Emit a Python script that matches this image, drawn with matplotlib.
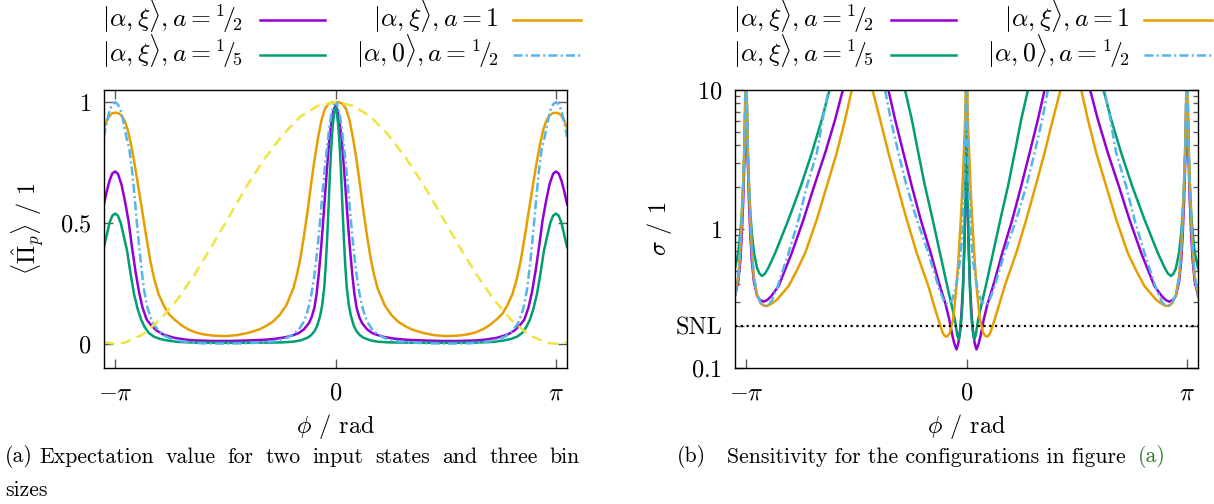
import numpy as np
import matplotlib
matplotlib.use("Agg")
import matplotlib.pyplot as plt
from matplotlib.lines import Line2D

plt.rcParams.update({
    "font.family": "serif",
    "font.serif": ["cmr10"],
    "mathtext.fontset": "cm",
    "axes.formatter.use_mathtext": True,
    "axes.unicode_minus": False,
})

# ---------------------------------------------------------------- data
# Expectation value <Pi_p> versus phi (phi >= 0, curves are even in phi)
phi_exp_half = [0.00, 0.03, 0.06, 0.09, 0.12, 0.15, 0.18, 0.21, 0.24, 0.27, 0.30, 0.34, 0.38, 0.45,
                0.52, 0.60, 0.70, 0.85, 1.00, 1.25, 1.50, 1.75, 2.00, 2.15, 2.30, 2.45, 2.55, 2.63,
                2.69, 2.75, 2.80, 2.85, 2.90, 2.95, 3.00, 3.05, 3.10, 3.14, 3.18, 3.22, 3.26, 3.30]
exp_half = [0.985, 0.965, 0.915, 0.840, 0.730, 0.610, 0.490, 0.380, 0.285, 0.205, 0.150, 0.110, 0.085,
            0.060, 0.045, 0.036, 0.028, 0.021, 0.017, 0.014, 0.012, 0.012, 0.014, 0.018, 0.025, 0.038,
            0.055, 0.078, 0.100, 0.150, 0.215, 0.300, 0.400, 0.510, 0.590, 0.660, 0.703, 0.713, 0.705,
            0.675, 0.630, 0.577]

phi_exp_fifth = [0.00, 0.02, 0.04, 0.06, 0.08, 0.10, 0.12, 0.14, 0.16, 0.19, 0.22, 0.26, 0.30, 0.35,
                 0.40, 0.50, 0.60, 0.75, 1.00, 1.50, 2.00, 2.25, 2.40, 2.50, 2.59, 2.66, 2.72, 2.77,
                 2.82, 2.87, 2.92, 2.97, 3.02, 3.06, 3.10, 3.14, 3.18, 3.22, 3.26, 3.30]
exp_fifth = [0.977, 0.955, 0.900, 0.815, 0.700, 0.560, 0.430, 0.320, 0.235, 0.160, 0.115, 0.075, 0.052,
             0.035, 0.025, 0.014, 0.009, 0.006, 0.005, 0.004, 0.005, 0.008, 0.014, 0.020, 0.030, 0.045,
             0.070, 0.100, 0.145, 0.205, 0.290, 0.385, 0.450, 0.500, 0.530, 0.539, 0.530, 0.500, 0.450,
             0.400]

phi_exp_one = [0.00, 0.05, 0.10, 0.15, 0.20, 0.25, 0.30, 0.35, 0.40, 0.45, 0.50, 0.55, 0.60, 0.70,
               0.80, 0.90, 1.00, 1.10, 1.25, 1.40, 1.57, 1.75, 1.90, 2.00, 2.10, 2.20, 2.30, 2.38,
               2.45, 2.52, 2.58, 2.64, 2.71, 2.76, 2.81, 2.86, 2.91, 2.96, 3.00, 3.05, 3.10, 3.14,
               3.18, 3.22, 3.26, 3.30]
exp_one = [1.000, 0.999, 0.993, 0.972, 0.925, 0.850, 0.760, 0.655, 0.545, 0.445, 0.355, 0.285, 0.230,
           0.160, 0.118, 0.090, 0.072, 0.058, 0.045, 0.036, 0.032, 0.034, 0.040, 0.048, 0.060, 0.078,
           0.102, 0.125, 0.160, 0.205, 0.265, 0.345, 0.467, 0.560, 0.650, 0.740, 0.820, 0.885, 0.920,
           0.945, 0.955, 0.956, 0.954, 0.943, 0.922, 0.893]

phi_exp_coh = [0.00, 0.03, 0.06, 0.09, 0.12, 0.15, 0.18, 0.21, 0.24, 0.27, 0.30, 0.34, 0.38, 0.42,
               0.46, 0.52, 0.60, 0.72, 0.85, 1.00, 1.30, 1.60, 1.90, 2.10, 2.25, 2.35, 2.43, 2.50,
               2.56, 2.62, 2.68, 2.73, 2.78, 2.82, 2.86, 2.90, 2.94, 2.98, 3.02, 3.06, 3.10, 3.14,
               3.18, 3.22, 3.26, 3.30]
exp_coh = [1.000, 0.985, 0.950, 0.890, 0.815, 0.735, 0.640, 0.540, 0.445, 0.360, 0.285, 0.210, 0.155,
           0.115, 0.088, 0.060, 0.038, 0.022, 0.012, 0.006, 0.002, 0.001, 0.002, 0.006, 0.014, 0.022,
           0.032, 0.048, 0.068, 0.096, 0.150, 0.225, 0.350, 0.470, 0.600, 0.720, 0.810, 0.855, 0.915,
           0.965, 0.990, 1.000, 0.990, 0.965, 0.915, 0.855]

phi_exp_ref = [0.00, 0.25, 0.50, 0.75, 1.00, 1.25, 1.50, 1.75, 2.00, 2.25, 2.50, 2.75, 3.00, 3.14, 3.30]
exp_ref = [1.000, 0.985, 0.940, 0.865, 0.770, 0.660, 0.535, 0.410, 0.290, 0.185, 0.100, 0.038, 0.005,
           0.000, 0.006]

# Sensitivity sigma versus phi (phi >= 0, curves are even in phi)
phi_sig_half = [0.000, 0.003, 0.008, 0.015, 0.025, 0.035, 0.050, 0.071, 0.090, 0.115, 0.142, 0.170,
                0.200, 0.246, 0.300, 0.379, 0.511, 0.654, 0.780, 0.900, 1.018, 1.113, 1.200, 1.680,
                1.762, 1.871, 2.013, 2.170, 2.321, 2.488, 2.677, 2.780, 2.840, 2.890, 2.940, 2.983,
                3.030, 3.060, 3.080, 3.100, 3.120, 3.133, 3.1416, 3.150, 3.162, 3.182, 3.202, 3.222,
                3.252, 3.300]
sig_half = [200, 8.0, 3.2, 1.7, 0.95, 0.62, 0.40, 0.25, 0.19, 0.152, 0.136, 0.148, 0.170, 0.224, 0.290,
            0.389, 0.675, 1.175, 2.04, 3.54, 6.15, 10.0, 14.5, 14.5, 10.0, 6.15, 3.54, 2.04, 1.175, 0.675,
            0.389, 0.330, 0.308, 0.300, 0.308, 0.330, 0.420, 0.600, 0.900, 1.60, 3.5, 9.0, 200, 9.0,
            3.5, 1.60, 0.900, 0.600, 0.420, 0.330]

phi_sig_fifth = [0.000, 0.004, 0.010, 0.020, 0.030, 0.047, 0.065, 0.085, 0.109, 0.130, 0.166, 0.220,
                 0.275, 0.379, 0.483, 0.592, 0.687, 0.780, 0.876, 0.950, 1.880, 1.952, 2.061, 2.203,
                 2.360, 2.535, 2.724, 2.820, 2.870, 2.914, 2.950, 2.983, 3.030, 3.060, 3.080, 3.100,
                 3.120, 3.133, 3.1416, 3.150, 3.162, 3.182, 3.202, 3.222, 3.252, 3.300]
sig_fifth = [200, 7.0, 3.0, 1.4, 0.85, 0.39, 0.25, 0.19, 0.161, 0.170, 0.224, 0.295, 0.389, 0.676,
             1.175, 2.04, 3.54, 6.15, 10.0, 14.5, 14.5, 10.0, 6.15, 3.54, 2.04, 1.175, 0.676, 0.530,
             0.478, 0.459, 0.478, 0.520, 0.680, 0.950, 1.30, 2.10, 4.0, 9.0, 200, 9.0, 4.0, 2.10, 1.30,
             0.950, 0.680, 0.520]

phi_sig_one = [0.000, 0.008, 0.019, 0.038, 0.057, 0.081, 0.109, 0.142, 0.190, 0.240, 0.265, 0.290,
               0.315, 0.340, 0.402, 0.470, 0.544, 0.710, 0.853, 0.985, 1.113, 1.231, 1.340, 1.420,
               1.560, 1.635, 1.729, 1.848, 1.990, 2.132, 2.297, 2.420, 2.535, 2.700, 2.780, 2.843,
               2.890, 2.930, 2.983, 3.030, 3.060, 3.080, 3.100, 3.120, 3.133, 3.1416, 3.150, 3.162,
               3.182, 3.202, 3.222, 3.252, 3.300]
sig_one = [200, 14.0, 6.15, 3.54, 2.04, 1.175, 0.676, 0.389, 0.224, 0.178, 0.171, 0.168, 0.171, 0.180,
           0.224, 0.290, 0.389, 0.675, 1.175, 2.04, 3.54, 6.15, 10.0, 14.5, 14.5, 10.0, 6.15, 3.54,
           2.04, 1.175, 0.675, 0.500, 0.389, 0.310, 0.290, 0.279, 0.281, 0.292, 0.335, 0.450, 0.720,
           1.15, 2.10, 4.5, 11.0, 200, 11.0, 4.5, 2.10, 1.15, 0.720, 0.450, 0.335]

phi_sig_coh = [0.000, 0.005, 0.014, 0.033, 0.062, 0.095, 0.130, 0.166, 0.210, 0.260, 0.310, 0.350,
               0.402, 0.544, 0.710, 0.853, 0.971, 1.080, 1.160, 1.240, 1.880, 1.966, 2.050, 2.132,
               2.274, 2.392, 2.535, 2.690, 2.770, 2.800, 2.843, 2.890, 2.930, 2.983, 3.030, 3.060,
               3.080, 3.100, 3.120, 3.133, 3.1416, 3.150, 3.162, 3.182, 3.202, 3.222, 3.252, 3.300]
sig_coh = [200, 12.0, 4.9, 2.04, 0.89, 0.58, 0.44, 0.36, 0.305, 0.287, 0.293, 0.330, 0.389, 0.675,
           1.175, 2.04, 3.54, 6.15, 10.0, 14.5, 14.5, 10.0, 6.15, 3.54, 2.04, 1.175, 0.675, 0.389,
           0.310, 0.291, 0.279, 0.282, 0.292, 0.335, 0.450, 0.720, 1.15, 2.10, 4.5, 11.0, 200, 11.0,
           4.5, 2.10, 1.15, 0.720, 0.450, 0.335]

snl = 0.2

labels = [r"$|\alpha,\xi\rangle, a = {}^{1}\!/\!{}_{2}$",
          r"$|\alpha,\xi\rangle, a = {}^{1}\!/\!{}_{5}$",
          r"$|\alpha,\xi\rangle, a = 1$",
          r"$|\alpha,0\rangle, a = {}^{1}\!/\!{}_{2}$"]
x_ticks = [-np.pi, 0.0, np.pi]
x_ticklabels = [r"$-\pi$", r"$0$", r"$\pi$"]

C_PURPLE = "#9400d3"
C_GREEN = "#009e73"
C_ORANGE = "#e69f00"
C_BLUE = "#56b4e9"
C_YELLOW = "#f0e442"
C_LINK = "#2a7a2a"


def both_sides(phi, val):
    """Extend an even curve given for phi >= 0 to negative phi."""
    phi = np.asarray(phi, float)
    val = np.asarray(val, float)
    return (np.concatenate([-phi[:0:-1], phi]),
            np.concatenate([val[:0:-1], val]))


# ---------------------------------------------------------------- figure
W, H = 1214, 504
fig = plt.figure(figsize=(W / 100, H / 100), dpi=100)


def px_axes(x0, y0, x1, y1):
    return fig.add_axes([x0 / W, 1 - y1 / H, (x1 - x0) / W, (y1 - y0) / H])


ax1 = px_axes(104, 90, 567, 368)
ax2 = px_axes(735, 90, 1198, 368)

LW = 1.8
FS = 17.5
LFS = 18.5
styles = [dict(color=C_PURPLE, lw=LW),
          dict(color=C_GREEN, lw=LW),
          dict(color=C_ORANGE, lw=LW),
          dict(color=C_BLUE, lw=LW, dashes=(3.6, 1.3, 0.8, 1.3))]

# left panel: expectation values
ax1.plot(*both_sides(phi_exp_half, exp_half), **styles[0])
ax1.plot(*both_sides(phi_exp_one, exp_one), **styles[2])
ax1.plot(*both_sides(phi_exp_fifth, exp_fifth), **styles[1])
ax1.plot(*both_sides(phi_exp_coh, exp_coh), **styles[3])
ax1.plot(*both_sides(phi_exp_ref, exp_ref), color=C_YELLOW, lw=LW, dashes=(4.2, 2.6))

# right panel: sensitivities
ax2.plot(*both_sides(phi_sig_half, sig_half), **styles[0])
ax2.plot(*both_sides(phi_sig_fifth, sig_fifth), **styles[1])
ax2.plot(*both_sides(phi_sig_one, sig_one), **styles[2])
ax2.plot(*both_sides(phi_sig_coh, sig_coh), **styles[3])
ax2.axhline(snl, color="black", lw=1.6, dashes=(1.0, 1.6))

xl = (-1.05 * np.pi, 1.05 * np.pi)
for ax in (ax1, ax2):
    ax.set_xlim(*xl)
    ax.set_xticks(x_ticks)
    ax.set_xticklabels(x_ticklabels)
    ax.tick_params(which="both", direction="in", top=True, right=True,
                   color="0.35", width=1.0, labelsize=FS)
    ax.tick_params(which="major", length=6.5)
    ax.tick_params(which="minor", length=3.5)
    ax.tick_params(axis="x", pad=10)
    ax.tick_params(axis="y", pad=9)
    for s in ax.spines.values():
        s.set_linewidth(1.0)
        s.set_color("black")
    ax.set_xlabel(r"$\phi$ / rad", fontsize=FS, va="center")
    ax.xaxis.set_label_coords(0.5, -0.212)

ax1.set_ylim(-0.1, 1.05)
ax1.set_yticks([0, 0.5, 1])
ax1.set_yticklabels([r"$0$", r"$0.5$", r"$1$"])
ax1.set_ylabel(r"$\langle\hat{\Pi}_p\rangle$ / 1", fontsize=FS, va="center")
ax1.yaxis.set_label_coords((28 - 104) / 463, 0.5)

ax2.set_yscale("log")
ax2.set_ylim(0.1, 10)
ax2.set_yticks([0.1, snl, 1, 10])
ax2.set_yticklabels([r"$0.1$", "SNL", r"$1$", r"$10$"])
minor = [m * d for d in (0.1, 1.0) for m in range(2, 10) if not np.isclose(m * d, snl)]
ax2.set_yticks(minor, minor=True)
ax2.set_yticklabels([], minor=True)
ax2.set_ylabel(r"$\sigma$ / 1", fontsize=FS, va="center")
ax2.yaxis.set_label_coords((660 - 735) / 463, 0.5)

# keys above each panel: two columns, text right-aligned before the line sample
key_rows = [(27, 20), (62, 55)]               # (text baseline, line centre) in px from top
key_cols = [(243, 260, 325), (499, 513, 581)]  # (text right edge, line start, line end)
key_slots = [(0, 0), (1, 0), (0, 1), (1, 1)]   # (row, column) of each series
for dx in (0, 631):
    for lab, sty, (r, c) in zip(labels, styles, key_slots):
        ty, ly = key_rows[r]
        tx, lx0, lx1 = key_cols[c]
        fig.text((tx + dx) / W, 1 - ty / H, lab, fontsize=LFS, ha="right", va="baseline")
        fig.add_artist(Line2D([(lx0 + dx) / W, (lx1 + dx) / W], [1 - ly / H, 1 - ly / H],
                              transform=fig.transFigure, **sty))

# sub-captions (first line of caption (a) is justified)
CFS = 15.7
yc1 = 1 - 457 / H
yc2 = 1 - 490 / H
renderer = fig.canvas.get_renderer()


def justified(words, x0, x1, y):
    arts = [fig.text(0, y, w, fontsize=CFS, va="center") for w in words]
    widths = [a.get_window_extent(renderer).width for a in arts]
    gap = ((x1 - x0) - sum(widths)) / (len(words) - 1)
    x = x0
    for a, w in zip(arts, widths):
        a.set_x(x / W)
        x += w + gap


fig.text(5 / W, yc1, "(a)", fontsize=CFS, va="center")
justified("Expectation value for two input states and three bin".split(), 39, 580, yc1)
fig.text(5 / W, yc2, "sizes", fontsize=CFS, va="center")
fig.text(677 / W, yc1, "(b)", fontsize=CFS, va="center")
tb = fig.text(727 / W, yc1, "Sensitivity for the configurations in figure ",
              fontsize=CFS, va="center")
bb = tb.get_window_extent(renderer)
fig.text(bb.x1 / W + 5 / W, yc1, "(a)", fontsize=CFS, va="center", color=C_LINK)

fig.savefig("out.png", dpi=100)
